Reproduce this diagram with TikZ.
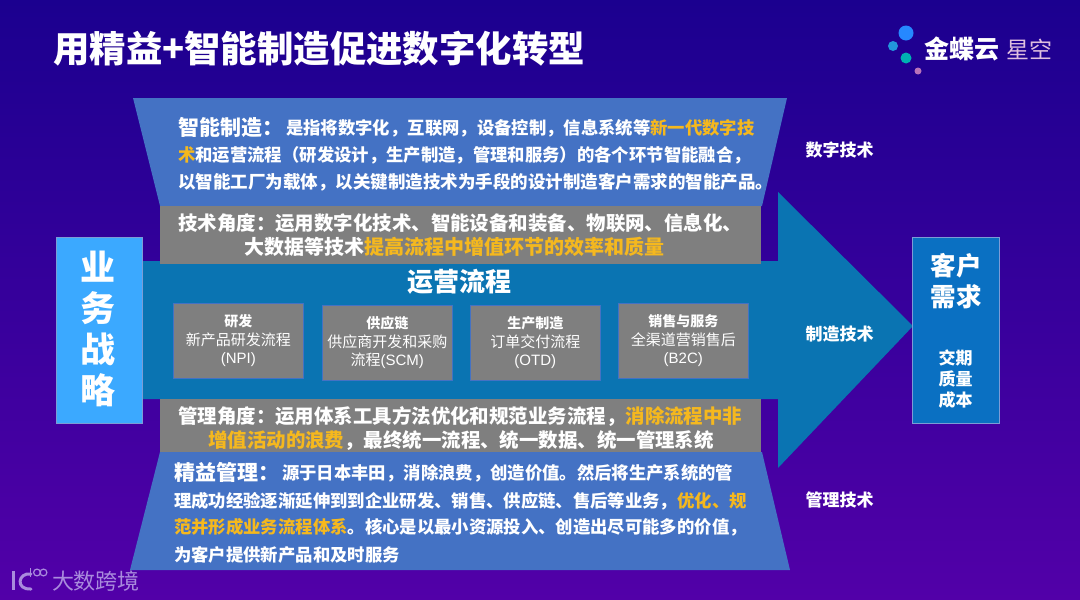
\documentclass[tikz,border=0pt]{standalone}
\usepackage{fontspec}
\setmainfont{Noto Sans CJK SC}
\newfontfamily\lat{Liberation Sans}
\definecolor{bgt}{HTML}{1B008F}
\definecolor{bgb}{HTML}{5200A8}
\definecolor{hl}{HTML}{F5B81E}
\definecolor{trap}{HTML}{4472C4}
\definecolor{grayb}{HTML}{7F7F7F}
\definecolor{logow}{HTML}{A98BDD}
\definecolor{arrowb}{HTML}{0A74B2}
\definecolor{leftb}{HTML}{3BA9FF}
\definecolor{rightb}{HTML}{0A70C2}
\tikzset{
 x=1pt,y=-1pt,
 line/.style={anchor=base west,text=white,inner sep=0,font=\fontsize{17.35}{20}\selectfont\bfseries},
 widel/.style={anchor=base west,text=white,inner sep=0,font=\fontsize{17.5}{20}\selectfont\bfseries},
 head/.style={anchor=base west,text=white,inner sep=0,font=\fontsize{21}{24}\selectfont\bfseries},
 gline/.style={anchor=base west,text=white,inner sep=0,font=\fontsize{19.45}{22}\selectfont\bfseries},
 glinew/.style={anchor=base west,text=white,inner sep=0,font=\fontsize{20}{22}\selectfont\bfseries},
 lab/.style={anchor=center,text=white,inner sep=0,font=\fontsize{17}{20}\selectfont\bfseries},
 procbox/.style={fill=grayb,draw=trap,line width=.6pt,minimum width=130,minimum height=74.5,inner sep=0,anchor=north west},
 proctxt/.style={anchor=center,align=center,text=white,inner sep=0,font=\fontsize{15}{18.5}\selectfont},
}
\newcommand{\hlt}[1]{\textcolor{hl}{#1}}
\newcommand{\ph}[1]{{\fontsize{14}{18.5}\selectfont\bfseries #1}}
\newcommand{\cma}{^^^^ff0c}
\newcommand{\cln}{^^^^ff1a}
\newcommand{\lpr}{^^^^ff08}
\newcommand{\rpr}{^^^^ff09}
\begin{document}
\begin{tikzpicture}
\useasboundingbox (0,0) rectangle (1080,600);
\shade[top color=bgt,bottom color=bgb] (0,0) rectangle (1080,600);
% title
\node[anchor=base west,text=white,inner sep=0,font=\fontsize{36.4}{40}\selectfont\bfseries] (title) at (53,62) {用精益+智能制造促进数字化转型};
% logo
\fill[fill=blue!55!cyan!85!white] (906,33) circle (7.5);
\fill[fill=cyan!75!blue!90!white] (893,46) circle (5);
\fill[fill=teal!60!cyan] (906,58) circle (5.5);
\fill[fill=violet!55!white] (918,71) circle (3.5);
\node[anchor=center,text=white,inner sep=0,font=\fontsize{25}{28}\selectfont\bfseries] (logoa) at (962,49) {金蝶云};
\node[anchor=center,text=white!75!violet,inner sep=0,font=\fontsize{23}{26}\selectfont] (logob) at (1029,49) {星空};
% arrow
\fill[fill=arrowb] (142,261) -- (778,261) -- (778,192) -- (913,326) -- (778,468) -- (778,399) -- (142,399) -- cycle;
% side boxes
\node[fill=leftb,draw=trap!70!white,line width=.5pt,minimum width=86,minimum height=186,inner sep=0,anchor=north west] (left) at (56,237) {};
\node[anchor=center,align=center,text=white,inner sep=0,font=\fontsize{35}{41}\selectfont\bfseries] (lefttxt) at (98,329) {业\\务\\战\\略};
\node[fill=rightb,draw=trap!70!white,line width=.5pt,minimum width=87,minimum height=186,inner sep=0,anchor=north west] (right) at (912,237) {};
\node[anchor=center,align=center,text=white,inner sep=0,font=\fontsize{25.5}{31}\selectfont\bfseries] (righttxt) at (956,281.5) {客户\\需求};
\node[anchor=center,align=center,text=white,inner sep=0,font=\fontsize{17}{21}\selectfont\bfseries] (righttxtb) at (955.5,379) {交期\\质量\\成本};
% panels
\fill[fill=trap] (133,98) -- (787,98) -- (762,206) -- (160,206) -- cycle;
\fill[fill=trap] (160,452) -- (762,452) -- (790,570) -- (130,570) -- cycle;
\fill[fill=grayb] (160,206) rectangle (761,264);
\fill[fill=grayb] (160,399) rectangle (761,452);
% top text
\node[head] (a0) at (178,135) {智能制造\cln};
\node[line] (a1) at (286,134) {是指将数字化\cma 互联网\cma 设备控制\cma 信息系统等\hlt{新一代数字技}};
\node[line] (a2) at (178,161.5) {\hlt{术}和运营流程\lpr 研发设计\cma 生产制造\cma 管理和服务\rpr 的各个环节智能融合\cma};
\node[widel] (a3) at (178,188) {以智能工厂为载体\cma 以关键制造技术为手段的设计制造客户需求的智能产品。};
\node[gline] (b1) at (178,230) {技术角度\cln 运用数字化技术、智能设备和装备、物联网、信息化、};
\node[glinew] (b2) at (244,254) {大数据等技术\hlt{提高流程中增值环节的效率和质量}};
\node[anchor=center,text=white,inner sep=0,font=\fontsize{26}{30}\selectfont\bfseries] (ops) at (459,282) {运营流程};
% process boxes
\node[procbox] (p1) at (173,303) {};
\node[procbox] (p2) at (322,305) {};
\node[procbox] (p3) at (470,305) {};
\node[procbox] (p4) at (618,303) {};
\node[proctxt] (pt1) at (p1.center) {\ph{研发}\\新产品研发流程\\{\lat(NPI)}};
\node[proctxt] (pt2) at (p2.center) {\ph{供应链}\\供应商开发和采购\\流程{\lat(SCM)}};
\node[proctxt] (pt3) at (p3.center) {\ph{生产制造}\\订单交付流程\\{\lat(OTD)}};
\node[proctxt] (pt4) at (p4.center) {\ph{销售与服务}\\全渠道营销售后\\{\lat(B2C)}};
% lower text
\node[gline] (c1) at (178,423) {管理角度\cln 运用体系工具方法优化和规范业务流程\cma \hlt{消除流程中非}};
\node[gline] (c2) at (208,447) {\hlt{增值活动的浪费}\cma 最终统一流程、统一数据、统一管理系统};
\node[head] (d0) at (174,480) {精益管理\cln};
\node[line] (d1) at (282,479.5) {源于日本丰田\cma 消除浪费\cma 创造价值。然后将生产系统的管};
\node[line] (d2) at (174,507) {理成功经验逐渐延伸到到企业研发、销售、供应链、售后等业务\cma \hlt{优化、规}};
\node[line] (d3) at (174,533.5) {\hlt{范并形成业务流程体系}。核心是以最小资源投入、创造出尽可能多的价值\cma};
\node[line] (d4) at (174,561) {为客户提供新产品和及时服务};
% right labels
\node[lab] (l1) at (839.5,150) {数字技术};
\node[lab] (l2) at (839.5,334) {制造技术};
\node[lab] (l3) at (839.5,500) {管理技术};
% watermark
\node[anchor=center,text=logow,inner sep=0,font=\fontsize{22}{24}\selectfont] (wm) at (96,581) {大数跨境};
\draw[draw=logow,line width=3pt] (13,571) -- (13,590);
\draw[draw=logow,line width=3pt,line cap=round] (31,574) .. controls (18,572) and (15,590) .. (31,589);
\draw[draw=logow,line width=1.2pt] (30.5,568) -- (30.5,577);
\draw[draw=logow,line width=1.2pt] (37,572.5) circle (3.4);
\draw[draw=logow,line width=1.2pt] (43.5,572.5) circle (3.4);
\end{tikzpicture}
\end{document}
